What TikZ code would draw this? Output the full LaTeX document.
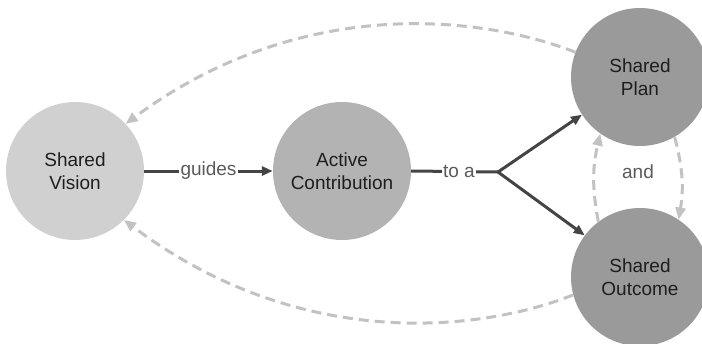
\documentclass[tikz,border=0pt]{standalone}
\usepackage{fontspec}
\setmainfont{Liberation Sans}
\usetikzlibrary{arrows.meta}
\definecolor{cvision}{HTML}{D0D0D0}
\definecolor{cactive}{HTML}{B3B3B3}
\definecolor{cshared}{HTML}{9A9A9A}
\definecolor{cdark}{HTML}{444444}
\definecolor{cdash}{HTML}{C2C2C2}
\definecolor{clabel}{HTML}{5A5A5A}
\definecolor{ctext}{HTML}{1E1E1E}
\tikzset{
  bubble/.style={circle, minimum size=138pt, inner sep=0pt, align=center, text=ctext,
    font=\fontsize{19}{22.5}\selectfont},
  solidarrow/.style={draw=cdark, line width=3pt, -{Triangle[length=11pt,width=9pt]}},
  solidline/.style={draw=cdark, line width=3pt},
  dasharrow/.style={draw=cdash, line width=3pt, dash pattern=on 10pt off 6pt,
    -{Triangle[length=12pt,width=10pt]}},
  lbl/.style={fill=white, inner sep=1.5pt, text=clabel, font=\fontsize{19}{22}\selectfont},
}
\begin{document}
\begin{tikzpicture}[x=1pt,y=-1pt]
\useasboundingbox (0,0) rectangle (702,343);
\node[bubble, fill=cvision] (vision) at (75,171) {Shared\\Vision};
\node[bubble, fill=cactive] (active) at (342,171) {Active\\Contribution};
\node[bubble, fill=cshared] (plan) at (640,77) {Shared\\Plan};
\node[bubble, fill=cshared] (outcome) at (640,277) {Shared\\Outcome};
\coordinate (branch) at (498,172);

\draw[solidarrow] (vision.east) -- node[lbl] {guides} (active.west);
\draw[solidline] (active.east) -- node[lbl, pos=0.55] {to a} (branch);
\draw[solidarrow] (branch) -- (plan.-147);
\draw[solidarrow] (branch) -- (outcome.143);

\draw[dasharrow] (plan.159) .. controls (480,15) and (300,-5) .. (vision.43);
\draw[dasharrow] (outcome.195) .. controls (480,332) and (300,352) .. (vision.-45);
\draw[dasharrow] (plan.-60) to[bend left=12] (outcome.56);
\draw[dasharrow] (outcome.127) to[bend left=12] (plan.-125);
\node[text=clabel, font=\fontsize{19}{22}\selectfont] (andlbl) at (638,172) {and};
\end{tikzpicture}
\end{document}
